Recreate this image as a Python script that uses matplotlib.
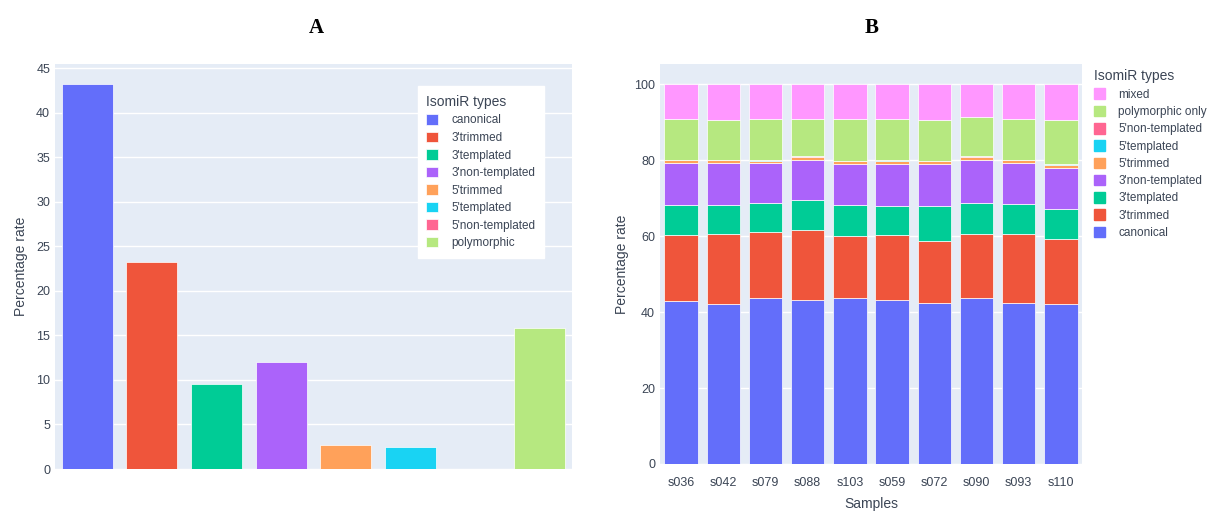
import matplotlib.pyplot as plt
from matplotlib.patches import Patch

plt.rcParams['font.family'] = ['Liberation Sans', 'DejaVu Sans']

# panel A data
types_a = ["canonical", "3'trimmed", "3'templated", "3'non-templated",
           "5'trimmed", "5'templated", "5'non-templated", "polymorphic"]
rate_a = [43.2, 23.3, 9.6, 12.0, 2.65, 2.5, 0.0, 15.8]

# panel B data
samples = ["s036", "s042", "s079", "s088", "s103", "s059", "s072", "s090", "s093", "s110"]
canonical = [43.0, 42.0, 43.7, 43.3, 43.8, 43.3, 42.5, 43.7, 42.5, 42.0]
trimmed3 = [17.2, 18.5, 17.5, 18.2, 16.1, 16.9, 16.3, 16.8, 18.0, 17.1]
templated3 = [7.9, 7.6, 7.6, 7.9, 8.2, 7.7, 9.1, 8.3, 7.9, 8.1]
nontemplated3 = [11.1, 11.1, 10.4, 10.6, 10.8, 11.0, 11.0, 11.2, 10.8, 10.8]
trimmed5 = [0.7, 0.7, 0.6, 0.8, 0.8, 0.9, 0.8, 0.8, 0.8, 0.8]
templated5 = [0.1, 0.1, 0.3, 0.1, 0.1, 0.1, 0.1, 0.1, 0.1, 0.1]
nontemplated5 = [0.05, 0.05, 0.05, 0.05, 0.05, 0.05, 0.05, 0.05, 0.05, 0.05]
poly_only = [10.85, 10.55, 10.75, 9.95, 11.05, 10.95, 10.75, 10.35, 10.75, 11.65]
mixed = [9.1, 9.4, 9.1, 9.1, 9.1, 9.1, 9.4, 8.7, 9.1, 9.4]

colors = ["#636EFA", "#EF553B", "#00CC96", "#AB63FA", "#FFA15A",
          "#19D3F3", "#FF6692", "#B6E880", "#FF97FF"]
bg = "#E5ECF6"
txt = '#3b4555'
W, H = 1208, 512

fig = plt.figure(figsize=(W / 100, H / 100), dpi=100)


def px_axes(x0, y0, x1, y1):
    return fig.add_axes([x0 / W, 1 - y1 / H, (x1 - x0) / W, (y1 - y0) / H])


def style(ax):
    ax.set_facecolor(bg)
    for s in ax.spines.values():
        s.set_visible(False)
    ax.grid(axis='y', color='white', lw=1)
    ax.set_axisbelow(True)
    ax.tick_params(length=0, labelsize=9, colors=txt)


def style_legend(leg):
    leg._legend_box.align = "left"
    for t in leg.get_texts():
        t.set_color(txt)
    leg.get_title().set_color(txt)


# ---- A ----
axa = px_axes(55, 64, 572, 469)
style(axa)
xa = range(len(types_a))
for i in xa:
    axa.bar(i, rate_a[i], width=0.79, color=colors[i], edgecolor='white', lw=0.5,
            label=types_a[i])
axa.set_xlim(-0.5, len(types_a) - 0.5)
axa.set_ylim(0, 45.5)
axa.set_yticks(range(0, 46, 5))
axa.set_xticks([])
axa.set_ylabel("Percentage rate", fontsize=10, color=txt, labelpad=6)
leg = axa.legend(title="IsomiR types", loc='upper left', bbox_to_anchor=(0.69, 0.96),
                 fontsize=8.5, title_fontsize=10, frameon=True, fancybox=False,
                 handlelength=1.0, handleheight=1.0, handletextpad=1.1,
                 labelspacing=0.44, borderpad=0.75)
leg.get_frame().set_edgecolor('white')
leg.get_frame().set_alpha(1)
style_legend(leg)
fig.text(316 / W, 1 - 28 / H, "A", fontsize=15, fontweight='bold',
         family='Liberation Serif', ha='center', va='center')

# ---- B ----
axb = px_axes(660, 64, 1082, 464)
style(axb)
series_b = [canonical, trimmed3, templated3, nontemplated3, trimmed5,
            templated5, nontemplated5, poly_only, mixed]
names_b = ["canonical", "3'trimmed", "3'templated", "3'non-templated", "5'trimmed",
           "5'templated", "5'non-templated", "polymorphic only", "mixed"]
xb = list(range(len(samples)))
bottom = [0.0] * len(samples)
for vals, c in zip(series_b, colors):
    axb.bar(xb, vals, bottom=bottom, width=0.79, color=c, edgecolor='white', lw=0.5)
    bottom = [b + v for b, v in zip(bottom, vals)]
axb.set_xlim(-0.5, len(samples) - 0.5)
axb.set_ylim(0, 105.3)
axb.set_yticks(range(0, 101, 20))
axb.set_xticks(xb)
axb.set_xticklabels(samples)
axb.tick_params(axis='x', pad=9)
axb.set_ylabel("Percentage rate", fontsize=10, color=txt, labelpad=4)
axb.set_xlabel("Samples", fontsize=10, color=txt, labelpad=6)
handles = [Patch(color=c, label=n) for c, n in zip(colors, names_b)][::-1]
legb = axb.legend(handles=handles, title="IsomiR types", loc='upper left',
                  bbox_to_anchor=(1.005, 1.01), fontsize=8.5, title_fontsize=10,
                  frameon=False, handlelength=1.0, handleheight=1.0,
                  handletextpad=1.1, labelspacing=0.42, borderpad=0.3)
style_legend(legb)
fig.text(872 / W, 1 - 28 / H, "B", fontsize=15, fontweight='bold',
         family='Liberation Serif', ha='center', va='center')

fig.savefig("out.png", dpi=100, facecolor='white')
